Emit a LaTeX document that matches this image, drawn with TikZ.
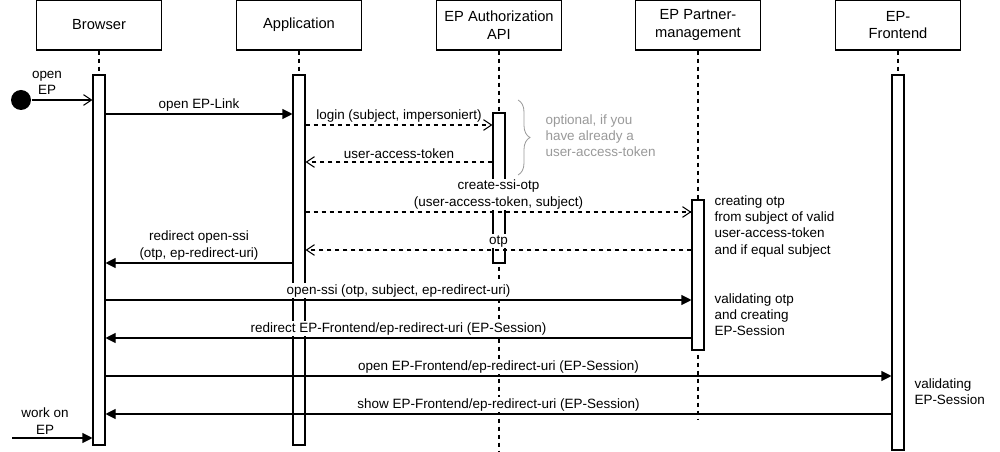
\documentclass[tikz,border=0pt]{standalone}
\usepackage{fontspec}
\setmainfont{Liberation Sans}
\usetikzlibrary{arrows.meta,decorations.pathreplacing}
\definecolor{notegray}{RGB}{153,153,153}
\tikzset{
  head/.style={draw, minimum width=93.75pt, minimum height=37.5pt, align=center, font=\fontsize{11pt}{13.3pt}\selectfont},
  actbar/.style={draw, fill=white, inner sep=0pt, minimum width=9pt, minimum height=#1*0.75pt},
  lifeline/.style={dash pattern=on 3pt off 3pt},
  call/.style={-{Triangle[length=7.5pt,width=7.5pt]}},
  reply/.style={dash pattern=on 3pt off 3pt, -{Straight Barb[length=6pt,width=8pt]}},
  async/.style={-{Straight Barb[length=6pt,width=8pt]}},
  msg/.style={fill=white, inner sep=1pt, align=center},
  note/.style={anchor=north west, align=left, inner sep=0pt},
}
\begin{document}
\begin{tikzpicture}[x=0.75pt, y=-0.75pt, line width=0.8pt, font=\fontsize{10.1pt}{12.2pt}\selectfont]
    \useasboundingbox (0,0) rectangle (1000,452);

    \node[head] (hbrowser) at (99,25) {Browser};
    \node[head] (happ) at (299,25) {Application};
    \node[head] (hauth) at (499,25) {EP Authorization\\API};
    \node[head] (hpartner) at (698,25) {EP Partner-\\management};
    \node[head] (hfront) at (898,25) {EP-\\Frontend};

    \coordinate (authend) at (499,452);
    \coordinate (partnerend) at (698,420);

    \draw[lifeline] (hbrowser) -- (99,75);
    \draw[lifeline] (happ) -- (299,75);
    \draw[lifeline] (hauth) -- (authend);
    \draw[lifeline] (hpartner) -- (partnerend);
    \draw[lifeline] (hfront) -- (898,75);

    \node[actbar=370] (barbrowser) at (99,260) {};
    \node[actbar=370] (barapp) at (299,260) {};
    \node[actbar=150] (barauth) at (499,188) {};
    \node[actbar=150] (barpartner) at (698,275) {};
    \node[actbar=375] (barfront) at (898,262.5) {};

    \node[circle, fill=black, minimum size=15pt, inner sep=0pt] (start) at (21,100) {};
    \node[align=center] (lopen) at (47,83) {open\\EP};
    \coordinate (work) at (12,438);
    \node[align=center] (lwork) at (45,421) {work on\\EP};

    \draw[async] (start) -- (barbrowser.west |- start);
    \draw[call] (barbrowser.east |- 0,114) -- (barapp.west |- 0,114)
      node[midway, above=1pt, msg] {open EP-Link};
    \draw[reply] (barapp.east |- 0,125) -- (barauth.west |- 0,125)
      node[midway, above=1pt, msg] {login (subject, impersoniert)};
    \draw[reply] (barauth.west |- 0,162) -- (barapp.east |- 0,162)
      node[midway, above=1pt, msg] {user-access-token};
    \draw[reply] (barapp.east |- 0,212) -- (barpartner.west |- 0,212)
      node[midway, above=1pt, msg] {create-ssi-otp\\(user-access-token, subject)};
    \draw[reply] (barpartner.west |- 0,250) -- (barapp.east |- 0,250)
      node[midway, above=1pt, msg] {otp};
    \draw[call] (barapp.west |- 0,263) -- (barbrowser.east |- 0,263)
      node[midway, above=1pt, msg] {redirect open-ssi\\(otp, ep-redirect-uri)};
    \draw[call] (barbrowser.east |- 0,300) -- (barpartner.west |- 0,300)
      node[midway, above=1pt, msg] {open-ssi (otp, subject, ep-redirect-uri)};
    \draw[call] (barpartner.west |- 0,338) -- (barbrowser.east |- 0,338)
      node[midway, above=1pt, msg] {redirect EP-Frontend/ep-redirect-uri (EP-Session)};
    \draw[call] (barbrowser.east |- 0,376) -- (barfront.west |- 0,376)
      node[midway, above=1pt, msg] {open EP-Frontend/ep-redirect-uri (EP-Session)};
    \draw[call] (barfront.west |- 0,414) -- (barbrowser.east |- 0,414)
      node[midway, above=1pt, msg] {show EP-Frontend/ep-redirect-uri (EP-Session)};
    \draw[call] (work) -- (barbrowser.west |- work);

    \draw[notegray, line width=0.6pt, decorate, decoration={brace, amplitude=9pt}] (518,100) -- (518,175);
    \node[note, text=notegray] (noptional) at (545,114) {optional, if you\\have already a\\user-access-token};
    \node[note] (ncreate) at (714,195) {creating otp\\from subject of valid\\user-access-token\\and if equal subject};
    \node[note] (nvalidate) at (714,293) {validating otp\\and creating\\EP-Session};
    \node[note] (nsession) at (914,378) {validating\\EP-Session};
\end{tikzpicture}
\end{document}
